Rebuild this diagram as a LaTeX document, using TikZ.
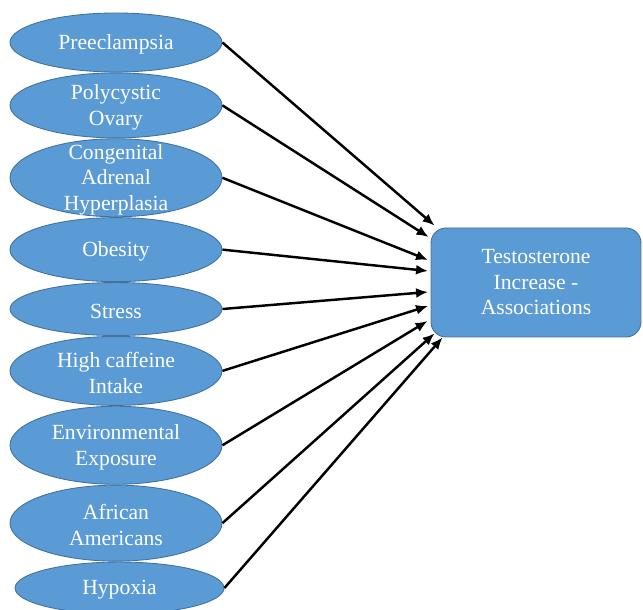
\documentclass[tikz,border=0pt]{standalone}
\usepackage{fontspec}
\setmainfont{Liberation Serif}
\usepackage{xcolor}
\usepackage{tikz}
\usetikzlibrary{arrows.meta,positioning,shapes.geometric}
\definecolor{FactorBlue}{HTML}{5B9BD5}
\definecolor{FactorEdge}{HTML}{41719C}

\begin{document}
\begin{tikzpicture}[
  node distance=0pt,
  factor/.style={ellipse, draw=FactorEdge, fill=FactorBlue, line width=0.5pt, minimum width=4.24cm, minimum height=#1, inner sep=0pt},
  txt/.style={text=white, align=center, font=\fontsize{12.3}{14.5}\selectfont},
  lbl/.style={txt, yshift=-0.04cm},
  outcome/.style={draw=FactorEdge, fill=FactorBlue, line width=0.5pt, rounded corners=0.3cm, minimum width=4.2cm, minimum height=2.18cm, txt},
  arrow/.style={-{Latex[length=2.4mm, width=2mm]}, line width=1.4pt}
]
  \useasboundingbox (0,0) rectangle (12.86,12.2);

  \node[factor=1.18cm, label={[lbl]center:Preeclampsia}] (preeclampsia) at (2.32,11.35) {};
  \node[factor=1.30cm, below=of preeclampsia, label={[lbl]center:Polycystic\\Ovary}] (pcos) {};
  \node[factor=1.56cm, below=of pcos, label={[lbl]center:Congenital\\Adrenal\\Hyperplasia}] (cah) {};
  \node[factor=1.28cm, below=of cah, label={[lbl]center:Obesity}] (obesity) {};
  \node[factor=1.06cm, below=of obesity, label={[lbl]center:Stress}] (stress) {};
  \node[factor=1.38cm, below=of stress, label={[lbl]center:High caffeine\\Intake}] (caffeine) {};
  \node[factor=1.56cm, below=of caffeine, label={[lbl]center:Environmental\\Exposure}] (environment) {};
  \node[factor=1.52cm, below=of environment, label={[lbl]center:African\\Americans}] (african) {};
  \node[factor=1.04cm, minimum width=4.18cm, below=of african, xshift=0.07cm, label={[lbl]center:Hypoxia}] (hypoxia) {};

  \node[outcome] (testosterone) at (10.72,6.55) {Testosterone\\Increase -\\Associations};

  \draw[arrow] (preeclampsia.east) -- ([xshift=0.08cm, yshift=0.04cm]testosterone.north west);
  \draw[arrow] (pcos.east) -- ([xshift=-0.04cm, yshift=0.91cm]testosterone.west);
  \draw[arrow] (cah.east) -- ([xshift=-0.05cm, yshift=0.45cm]testosterone.west);
  \draw[arrow] (obesity.east) -- ([xshift=-0.05cm, yshift=0.23cm]testosterone.west);
  \draw[arrow] (stress.east) -- ([xshift=-0.05cm, yshift=-0.19cm]testosterone.west);
  \draw[arrow] (caffeine.east) -- ([xshift=-0.05cm, yshift=-0.47cm]testosterone.west);
  \draw[arrow] (environment.east) -- ([xshift=-0.06cm, yshift=-0.77cm]testosterone.west);
  \draw[arrow] (african.east) -- ([xshift=0.08cm, yshift=0.08cm]testosterone.south west);
  \draw[arrow] (hypoxia.east) -- ([xshift=0.24cm]testosterone.south west);
\end{tikzpicture}
\end{document}
